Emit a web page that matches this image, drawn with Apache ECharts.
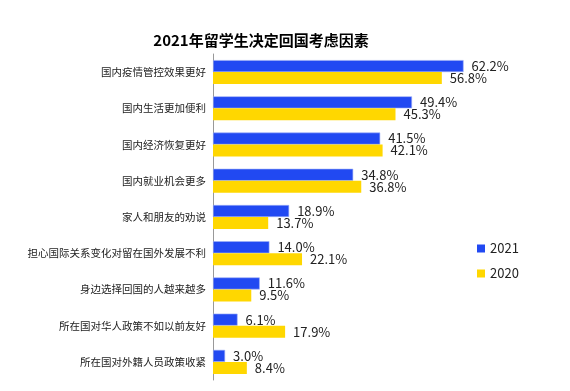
<!DOCTYPE html>
<html><head><meta charset="utf-8">
<script src="https://cdn.jsdelivr.net/npm/echarts@6/dist/echarts.min.js"></script>
<style>html,body{margin:0;padding:0;background:#fff}#c{width:570px;height:391px}</style>
</head><body><div id="c"></div>
<script>
const categories = ['国内疫情管控效果更好','国内生活更加便利','国内经济恢复更好','国内就业机会更多','家人和朋友的劝说','担心国际关系变化对留在国外发展不利','身边选择回国的人越来越多','所在国对华人政策不如以前友好','所在国对外籍人员政策收紧'];
const values2021 = [62.2, 49.4, 41.5, 34.8, 18.9, 14.0, 11.6, 6.1, 3.0];
const values2020 = [56.8, 45.3, 42.1, 36.8, 13.7, 22.1, 9.5, 17.9, 8.4];
const seriesNames = ['2021', '2020'];
const titleText = '2021年留学生决定回国考虑因素';

const font = '"Noto Sans CJK SC", "Noto Sans", sans-serif';
const chart = echarts.init(document.getElementById('c'));
const lbl = {show: true, position: 'right', distance: 8, color: '#222', fontSize: 13, fontFamily: font, formatter: p => p.value.toFixed(1) + '%'};
chart.setOption({
  animation: false,
  title: {text: titleText, left: 256, top: 28, textAlign: 'center', textStyle: {fontSize: 15, fontWeight: 'bold', color: '#000', fontFamily: font}},
  legend: {orient: 'vertical', left: 472, top: 237, itemWidth: 8, itemHeight: 8, itemGap: 12, icon: 'rect',
    itemStyle: {borderWidth: 0},
    textStyle: {fontSize: 13, color: '#222', fontFamily: font}, data: seriesNames},
  grid: {left: 213, top: 54, bottom: 11, right: 75},
  xAxis: {type: 'value', min: 0, max: 70, show: false},
  yAxis: {type: 'category', inverse: true, data: categories,
    axisLine: {lineStyle: {color: '#999'}}, axisTick: {length: 4, lineStyle: {color: '#999'}},
    axisLabel: {fontSize: 10.5, color: '#222', margin: 7, fontFamily: font}},
  series: [
    {name: seriesNames[0], type: 'bar', data: values2021, barWidth: 12, barGap: '0%', itemStyle: {color: '#2149F2', borderColor: '#9fb0f7', borderWidth: 0.6}, label: lbl},
    {name: seriesNames[1], type: 'bar', data: values2020, barWidth: 12, barGap: '0%', itemStyle: {color: '#FFD700'}, label: lbl}
  ]
});
</script></body></html>
